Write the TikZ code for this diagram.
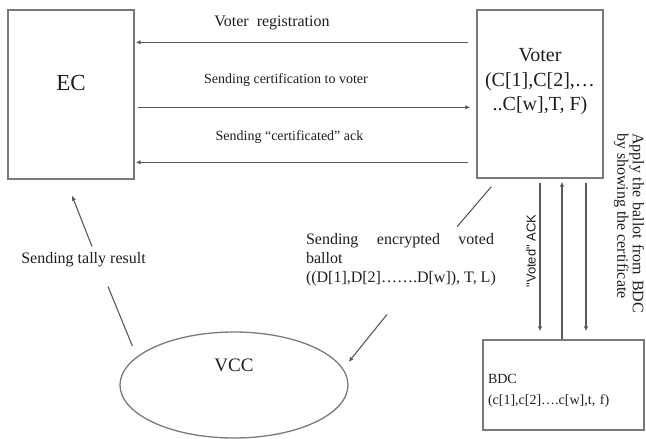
\documentclass[tikz,border=0pt]{standalone}
\usepackage{fontspec}
\setmainfont{Liberation Serif}
\newfontfamily\sansack{Liberation Sans}
\usetikzlibrary{arrows.meta,shapes.geometric}

\definecolor{edgegray}{HTML}{7A7A7A}
\definecolor{wiregray}{HTML}{5A5A5A}
\definecolor{inkgray}{HTML}{1E1E1E}

\tikzset{
  entity/.style={draw=edgegray, line width=1.3pt, inner sep=0pt},
  wire/.style={draw=wiregray, line width=1.1pt},
  msg/.style={wire, -{Latex[length=5pt,width=4.5pt]}},
  caption/.style={text=inkgray, inner sep=0pt},
  fsmall/.style={font=\fontsize{14}{17}\selectfont},
  fmid/.style={font=\fontsize{16}{19}\selectfont},
}

\begin{document}
\begin{tikzpicture}[x=1pt,y=-1pt]
\useasboundingbox (0,0) rectangle (646,439);

% entities
\node[entity, minimum width=126pt, minimum height=169pt,
  label={[caption, font=\fontsize{23}{26}\selectfont, yshift=11.5pt]center:EC}] (ec) at (71,94.5) {};
\node[entity, minimum width=126pt, minimum height=168pt,
  label={[caption, align=center, font=\fontsize{20}{24.5}\selectfont, yshift=12pt]center:{Voter\\(C[1],C[2],\ldots\\..C[w],T, F)}}] (voter) at (540,94) {};
\node[entity, minimum width=161pt, minimum height=90pt,
  label={[caption, text width=151pt, align=left, font=\fontsize{14}{21}\selectfont, yshift=-6pt]center:{BDC\\(c[1],c[2]\ldots.c[w],t, f)}}] (bdc) at (563.5,385) {};
\node[entity, ellipse, minimum width=228pt, minimum height=106pt,
  label={[caption, font=\fontsize{19}{22}\selectfont, yshift=20pt]center:VCC}] (vcc) at (234,385) {};

% captions
\node[caption, fmid] (reg) at (272,23) {Voter\ \ registration};
\node[caption, fsmall] (cert) at (286,80) {Sending certification to voter};
\node[caption, fsmall] (certack) at (289.5,137) {Sending ``certificated'' ack};
\node[caption, fmid, text width=188pt, align=justify] (enc) at (400,260)
  {Sending encrypted voted\linebreak ballot\\\mbox{((D[1],D[2]\ldots\ldots.D[w]), T, L)}};
\node[caption, rotate=-90, text width=180pt, align=justify,
  font=\fontsize{16}{15.5}\selectfont] (apply) at (629,223)
  {Apply the ballot from BDC\linebreak by showing the certificate};
\node[caption, rotate=90, font=\sansack\fontsize{13}{15}\selectfont] (ack) at (531,251) {"Voted" ACK};
\node[caption, fmid] (tally) at (83.5,260) {Sending tally result};

% messages between EC and voter
\draw[msg, shorten <=8pt, shorten >=1pt] ([yshift=-33pt]voter.north west) -- ([yshift=-33pt]ec.north east);
\draw[msg, shorten <=3pt, shorten >=6pt] ([yshift=-98pt]ec.north east) -- ([yshift=-98pt]voter.north west);
\draw[msg, shorten <=8pt, shorten >=1pt] ([yshift=-153pt]voter.north west) -- ([yshift=-153pt]ec.north east);

% voter and BDC
\draw[msg, shorten <=4pt, shorten >=8pt] (voter.south) -- (bdc.north -| voter.south);
\draw[msg, shorten >=3pt] ([xshift=-1.5pt]bdc.north) -- ([xshift=22pt]voter.south);
\draw[msg, shorten <=4pt, shorten >=8pt] ([xshift=46pt]voter.south) -- ([xshift=22.5pt]bdc.north);

% ballot to VCC, tally to EC
\draw[wire] ([xshift=15pt,yshift=-8pt]voter.south west) -- ([xshift=-37pt,yshift=7pt]enc.north east);
\draw[msg] ([xshift=-13pt,yshift=-28pt]enc.south) -- ([yshift=23pt]vcc.east);
\draw[wire] ([xshift=13pt,yshift=39pt]vcc.west) -- ([xshift=24.5pt,yshift=-19pt]tally.south);
\draw[msg] ([xshift=8.5pt,yshift=6pt]tally.north) -- ([xshift=1pt,yshift=-16pt]ec.south);
\end{tikzpicture}
\end{document}
